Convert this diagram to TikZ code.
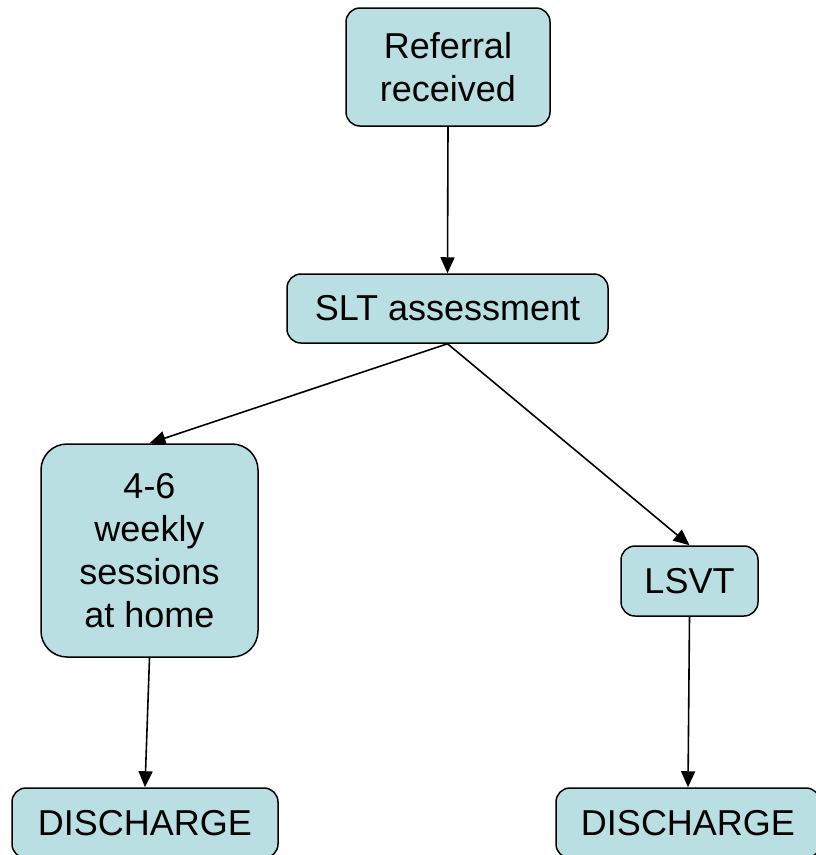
\documentclass[tikz,border=0pt]{standalone}
\usepackage{fontspec}
\setmainfont{Liberation Sans}
\usetikzlibrary{arrows.meta}
\definecolor{boxfill}{HTML}{B9DFE3}
\begin{document}
\begin{tikzpicture}[x=1pt,y=-1pt,>={Triangle[length=16pt,width=14pt]},
 box/.style={draw,line width=1.5pt,fill=boxfill,rounded corners=14pt,inner sep=0pt,
  align=center,font=\fontsize{36}{43}\selectfont},
 link/.style={->,line width=1.6pt}]
 \useasboundingbox (0,0) rectangle (816,855);
 \node[box,minimum width=204pt,minimum height=118pt] (ref) at (448,67) {Referral\\received};
 \node[box,minimum width=321pt,minimum height=69pt] (slt) at (447.5,308.5) {SLT assessment};
 \node[box,rounded corners=26pt,minimum width=217pt,minimum height=213pt] (home) at (149.5,550.5)
 {4-6\\weekly\\sessions\\at home};
 \node[box,minimum width=137pt,minimum height=70pt] (lsvt) at (689.5,581) {LSVT};
 \node[box,minimum width=266pt,minimum height=70pt] (disA) at (145,823) {DISCHARGE};
 \node[box,minimum width=264pt,minimum height=70pt] (disB) at (688,823) {DISCHARGE};
 \draw[link] (ref.south) -- (slt.north);
 \draw[link] (slt.south) -- (home.north);
 \draw[link] (slt.south) -- (lsvt.north);
 \draw[link] (home.south) -- (disA.north);
 \draw[link] (lsvt.south) -- (disB.north);
\end{tikzpicture}
\end{document}
